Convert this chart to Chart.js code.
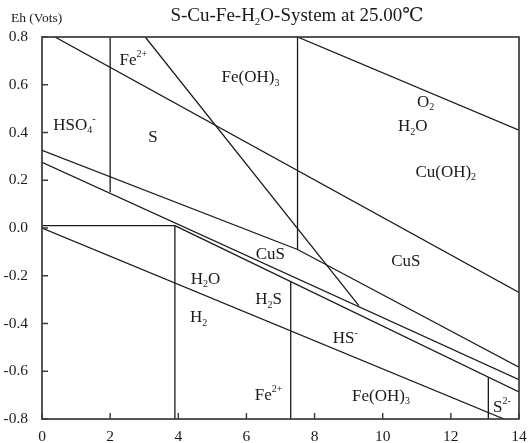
<!DOCTYPE html>
<html lang="en">
<head>
    <meta charset="UTF-8">
    <title>S-Cu-Fe-H2O Eh-pH</title>
    <script src="https://cdn.jsdelivr.net/npm/chart.js"></script>
    <style>
        body { margin: 0; background: #fff; }
        #wrap { width: 528px; height: 443px; }
    </style>
</head>
<body>
    <div id="wrap"><canvas id="eh" width="528" height="443"></canvas></div>
    <script>
        // boundary lines (x = pH, y = Eh in volts)
        const o2H2oX = [7.5, 14];        const o2H2oY = [0.8, 0.41];
        const fe2Fe3X = [0.38, 14];      const fe2Fe3Y = [0.8, -0.27];
        const steepX = [3.03, 9.3];      const steepY = [0.8, -0.325];
        const pH2VertX = [2, 2];         const pH2VertY = [0.8, 0.15];
        const pH75VertX = [7.5, 7.5];    const pH75VertY = [0.8, -0.09];
        const sLowerX = [0, 7.5, 14];    const sLowerY = [0.325, -0.09, -0.583];
        const cusUpperX = [0, 14];       const cusUpperY = [0.275, -0.635];
        const cusLowerX = [3.9, 14];     const cusLowerY = [0.01, -0.687];
        const h2oH2X = [0, 13.56];       const h2oH2Y = [0, -0.8];
        const flatX = [0, 3.9];          const flatY = [0.01, 0.01];
        const pH39VertX = [3.9, 3.9];    const pH39VertY = [0.01, -0.8];
        const pH73VertX = [7.3, 7.3];    const pH73VertY = [-0.225, -0.8];
        const pH131VertX = [13.1, 13.1]; const pH131VertY = [-0.625, -0.8];

        const lines = [
            [o2H2oX, o2H2oY], [fe2Fe3X, fe2Fe3Y], [steepX, steepY],
            [pH2VertX, pH2VertY], [pH75VertX, pH75VertY], [sLowerX, sLowerY],
            [cusUpperX, cusUpperY], [cusLowerX, cusLowerY], [h2oH2X, h2oH2Y],
            [flatX, flatY], [pH39VertX, pH39VertY], [pH73VertX, pH73VertY],
            [pH131VertX, pH131VertY]
        ];

        // species names and where they sit (pH, Eh); _ = subscript, ^ = superscript
        const speciesText = ['Fe^{2+}', 'Fe(OH)_3', 'O_2', 'H_2O', 'HSO_4^-', 'S', 'Cu(OH)_2',
            'CuS', 'CuS', 'H_2O', 'H_2S', 'H_2', 'HS^-', 'Fe^{2+}', 'Fe(OH)_3', 'S^{2-}'];
        const speciesPH = [2.68, 6.12, 11.26, 10.88, 0.95, 3.26, 11.85,
            6.7, 10.68, 4.8, 6.65, 4.6, 8.9, 6.65, 9.95, 13.5];
        const speciesEh = [0.70, 0.63, 0.526, 0.425, 0.43, 0.38, 0.233,
            -0.11, -0.14, -0.215, -0.30, -0.375, -0.465, -0.70, -0.705, -0.75];

        const xTicks = [0, 2, 4, 6, 8, 10, 12, 14];
        const yTicks = [-0.8, -0.6, -0.4, -0.2, 0, 0.2, 0.4, 0.6, 0.8];

        const serif = '"Liberation Serif", "DejaVu Serif", serif';
        const ink = '#1a1a1a';

        // split "H_2O" style strings into pieces: [text, kind]
        function parseRich(str) {
            const out = [];
            let i = 0;
            while (i < str.length) {
                const c = str[i];
                if (c === '_' || c === '^') {
                    let t;
                    if (str[i + 1] === '{') {
                        const j = str.indexOf('}', i);
                        t = str.slice(i + 2, j);
                        i = j + 1;
                    } else {
                        t = str[i + 1];
                        i += 2;
                    }
                    out.push([t, c === '_' ? 'sub' : 'sup']);
                } else {
                    let j = i;
                    while (j < str.length && str[j] !== '_' && str[j] !== '^') j++;
                    out.push([str.slice(i, j), 'n']);
                    i = j;
                }
            }
            return out;
        }

        function drawRich(ctx, str, cx, cy, size) {
            const parts = parseRich(str);
            const small = Math.round(size * 0.6);
            let w = 0;
            parts.forEach(p => {
                ctx.font = (p[1] === 'n' ? size : small) + 'px ' + serif;
                w += ctx.measureText(p[0]).width;
            });
            let x = cx - w / 2;
            ctx.textBaseline = 'middle';
            ctx.textAlign = 'left';
            parts.forEach(p => {
                let dy = 0;
                if (p[1] === 'sub') dy = size * 0.32;
                if (p[1] === 'sup') dy = -size * 0.36;
                ctx.font = (p[1] === 'n' ? size : small) + 'px ' + serif;
                ctx.fillText(p[0], x, cy + dy);
                x += ctx.measureText(p[0]).width;
            });
        }

        const decorations = {
            id: 'decorations',
            afterDraw(chart) {
                const ctx = chart.ctx;
                const area = chart.chartArea;
                const xs = chart.scales.x;
                const ys = chart.scales.y;
                ctx.save();
                // frame
                ctx.strokeStyle = '#3a3a3a';
                ctx.lineWidth = 1.7;
                ctx.strokeRect(area.left, area.top, area.right - area.left, area.bottom - area.top);
                // inward ticks
                ctx.lineWidth = 1.4;
                ctx.beginPath();
                xTicks.forEach(v => {
                    const px = xs.getPixelForValue(v);
                    ctx.moveTo(px, area.bottom);
                    ctx.lineTo(px, area.bottom - 6);
                });
                yTicks.forEach(v => {
                    const py = ys.getPixelForValue(v);
                    ctx.moveTo(area.left, py);
                    ctx.lineTo(area.left + 6, py);
                });
                ctx.stroke();
                // region names
                ctx.fillStyle = ink;
                speciesText.forEach((t, i) => {
                    drawRich(ctx, t, xs.getPixelForValue(speciesPH[i]), ys.getPixelForValue(speciesEh[i]), 17);
                });
                // title and axis caption
                drawRich(ctx, 'S-Cu-Fe-H_2O-System at 25.00\u2103', 297, 16, 19);
                ctx.font = '13.5px ' + serif;
                ctx.textAlign = 'left';
                ctx.textBaseline = 'middle';
                ctx.fillText('Eh (Vots)', 11, 18);
                ctx.restore();
            }
        };

        new Chart(document.getElementById('eh'), {
            type: 'scatter',
            data: {
                datasets: lines.map(l => ({
                    data: l[0].map((x, i) => ({ x: x, y: l[1][i] })),
                    showLine: true,
                    borderColor: ink,
                    borderWidth: 1.3,
                    pointRadius: 0,
                    tension: 0
                }))
            },
            options: {
                responsive: false,
                animation: false,
                events: [],
                layout: { padding: { top: 37, right: 9, left: 0, bottom: 0 } },
                plugins: { legend: { display: false }, tooltip: { enabled: false } },
                scales: {
                    x: {
                        type: 'linear', min: 0, max: 14,
                        afterFit(s) { s.height = 24; },
                        afterBuildTicks(s) { s.ticks = xTicks.map(v => ({ value: v })); },
                        grid: { display: false },
                        border: { display: false },
                        ticks: { color: ink, padding: 1, font: { family: serif, size: 15.5 } }
                    },
                    y: {
                        type: 'linear', min: -0.8, max: 0.8,
                        afterFit(s) { s.width = 42; },
                        afterBuildTicks(s) { s.ticks = yTicks.map(v => ({ value: v })); },
                        grid: { display: false },
                        border: { display: false },
                        ticks: {
                            color: ink, padding: 6, font: { family: serif, size: 15.5 },
                            callback: v => v.toFixed(1)
                        }
                    }
                }
            },
            plugins: [decorations]
        });
    </script>
</body>
</html>
